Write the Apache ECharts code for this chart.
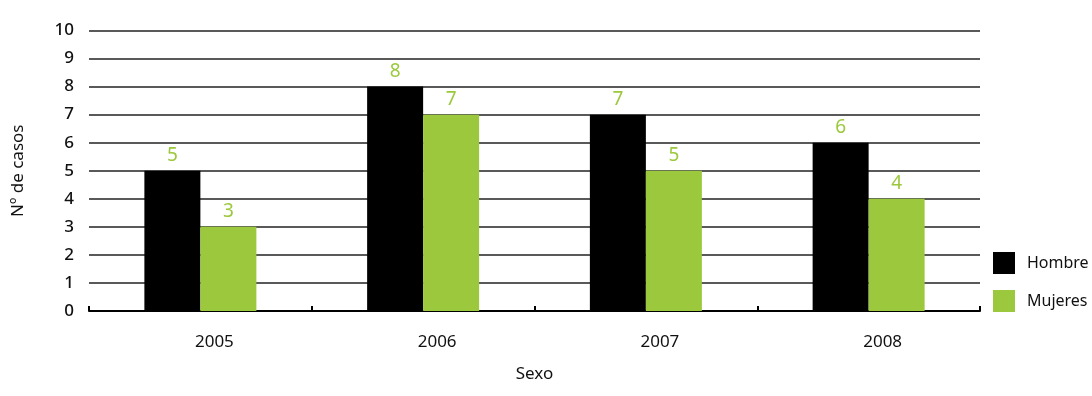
<!DOCTYPE html>
<html>
<head>
<meta charset="utf-8">
<script src="https://cdn.jsdelivr.net/npm/echarts@6/dist/echarts.min.js"></script>
<style>
  html, body { margin: 0; padding: 0; background: #fff; }
  #chart { width: 1092px; height: 396px; }
</style>
</head>
<body>
<div id="chart"></div>
<script>
const years = ['2005', '2006', '2007', '2008']
const hombre = [5, 8, 7, 6]
const mujeres = [3, 7, 5, 4]

const FONT = '"Noto Sans", sans-serif'
const GREEN = '#9bc83c'
const INK = '#111'

const chart = echarts.init(document.getElementById('chart'))

chart.setOption({
  animation: false,
  textStyle: { fontFamily: FONT },
  grid: { left: 89, right: 112, top: 30.5, bottom: 85 },
  legend: {
    orient: 'vertical',
    left: 988,
    top: 247,
    itemWidth: 22,
    itemHeight: 22,
    itemGap: 16,
    icon: 'rect',
    textStyle: { fontSize: 16, color: INK, fontFamily: FONT, padding: [0, 0, 0, 7] },
    data: ['Hombre', 'Mujeres'],
  },
  xAxis: {
    type: 'category',
    data: years,
    name: 'Sexo',
    nameLocation: 'middle',
    nameGap: 55,
    nameTextStyle: { fontSize: 17, color: INK, verticalAlign: 'top' },
    axisLine: { lineStyle: { color: '#000', width: 2 } },
    axisTick: { show: true, inside: true, length: 5, lineStyle: { color: '#000', width: 2 } },
    axisLabel: { fontSize: 17, color: INK, margin: 23, padding: [0, 0, 0, 28] },
  },
  yAxis: {
    type: 'value',
    min: 0,
    max: 10,
    interval: 1,
    name: 'Nº de casos',
    nameLocation: 'middle',
    nameGap: 62,
    nameTextStyle: { fontSize: 17, color: INK },
    axisLine: { show: false },
    axisTick: { show: false },
    axisLabel: { fontSize: 17, color: INK, margin: 15, fontWeight: 500 },
    splitLine: { show: true, lineStyle: { color: '#222', width: 1.5 } },
  },
  series: [
    {
      name: 'Hombre', type: 'bar', data: hombre,
      barWidth: 56, barGap: '0%',
      itemStyle: { color: '#000' },
      label: { show: true, position: 'top', distance: 6, color: GREEN, fontSize: 19 },
    },
    {
      name: 'Mujeres', type: 'bar', data: mujeres,
      barWidth: 56,
      itemStyle: { color: GREEN },
      label: { show: true, position: 'top', distance: 6, color: GREEN, fontSize: 19 },
    },
  ],
})
</script>
</body>
</html>
